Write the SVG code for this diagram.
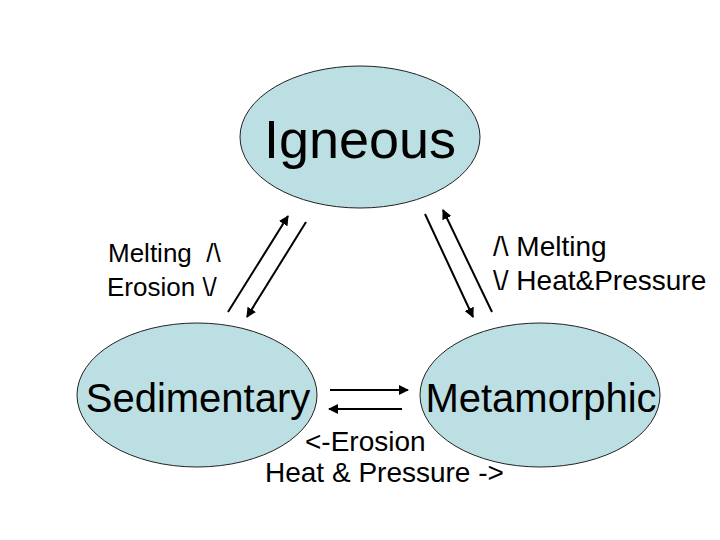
<svg xmlns="http://www.w3.org/2000/svg" width="720" height="540" viewBox="0 0 720 540">
<defs>
<style>
.node ellipse{fill:#bcdfe3;stroke:#222;stroke-width:1}
.big{font-family:"Liberation Sans",Arial,sans-serif;fill:#000;text-anchor:middle}
.lbl{font-family:"Liberation Sans",Arial,sans-serif;font-size:28px;fill:#000}
.lbl.sm{font-size:26px}
.conn line{stroke:#000;stroke-width:2;marker-end:url(#ah)}
</style>
<marker id="ah" viewBox="0 0 10 10" refX="9" refY="5" markerWidth="5" markerHeight="5" orient="auto" markerUnits="strokeWidth">
<path d="M0,0 L10,5 L0,10 z" fill="#000"/>
</marker>
</defs>
<rect width="720" height="540" fill="#fff"/>
<g id="igneous" class="node">
<ellipse cx="360" cy="137" rx="120" ry="71"/>
<text class="big" x="360" y="158" font-size="54">Igneous</text>
</g>
<g id="sedimentary" class="node">
<ellipse cx="197" cy="395" rx="120" ry="72"/>
<text class="big" x="198" y="412" font-size="40">Sedimentary</text>
</g>
<g id="metamorphic" class="node">
<ellipse cx="540" cy="395" rx="120" ry="72"/>
<text class="big" x="541" y="412" font-size="40">Metamorphic</text>
</g>
<g id="connectors" class="conn">
<line x1="228" y1="312" x2="288" y2="216"/>
<line x1="306" y1="222" x2="247" y2="317"/>
<line x1="425" y1="214" x2="473" y2="317"/>
<line x1="492" y1="312" x2="443" y2="210"/>
<line x1="330" y1="390" x2="408" y2="390"/>
<line x1="402" y1="409" x2="329" y2="409"/>
</g>
<g id="labels">
<text class="lbl sm" x="108" y="262" xml:space="preserve">Melting  /\</text>
<text class="lbl sm" x="107" y="296">Erosion \/</text>
<text class="lbl" x="493" y="256">/\ Melting</text>
<text class="lbl" x="493" y="290">\/ Heat&amp;Pressure</text>
<text class="lbl" x="305" y="451">&lt;-Erosion</text>
<text class="lbl" x="265" y="482">Heat &amp; Pressure -&gt;</text>
</g>
</svg>
